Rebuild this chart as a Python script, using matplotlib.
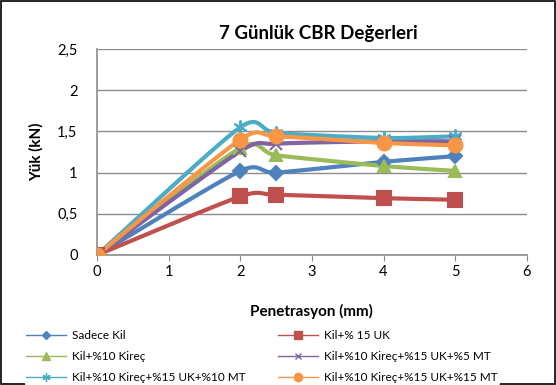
import numpy as np
import matplotlib
matplotlib.use('Agg')
import matplotlib.pyplot as plt
from matplotlib.ticker import FuncFormatter

plt.rcParams['font.family'] = ['Lato', 'DejaVu Sans']

penetrasyon = [0, 2, 2.5, 4, 5]
sadece_kil = [0, 1.02, 1.00, 1.13, 1.20]
kil_uk = [0, 0.71, 0.73, 0.69, 0.67]
kil_kirec = [0, 1.30, 1.21, 1.08, 1.02]
kil_5mt = [0, 1.26, 1.35, 1.38, 1.38]
kil_10mt = [0, 1.55, 1.48, 1.42, 1.44]
kil_15mt = [0, 1.40, 1.44, 1.36, 1.33]

names = ['Sadece Kil', 'Kil+% 15 UK', 'Kil+%10 Kireç', 'Kil+%10 Kireç+%15 UK+%5 MT',
         'Kil+%10 Kireç+%15 UK+%10 MT', 'Kil+%10 Kireç+%15 UK+%15 MT']
series = [sadece_kil, kil_uk, kil_kirec, kil_5mt, kil_10mt, kil_15mt]
colors = ['#4F81BD', '#C0504D', '#9BBB59', '#8064A2', '#4BACC6', '#F79646']
markers = ['D', 's', '^', 'x', (6, 2, 0), 'o']
msizes = [7, 10, 9, 8, 10, 10]


def smooth(x, y, n=30):
    # catmull-rom like the excel smoothed line
    x = np.asarray(x, float)
    y = np.asarray(y, float)
    px = np.concatenate([[2 * x[0] - x[1]], x, [2 * x[-1] - x[-2]]])
    py = np.concatenate([[2 * y[0] - y[1]], y, [2 * y[-1] - y[-2]]])
    xs, ys = [], []
    for i in range(1, len(px) - 2):
        t = np.linspace(0, 1, n)
        for p, out in ((px, xs), (py, ys)):
            p0, p1, p2, p3 = p[i - 1], p[i], p[i + 1], p[i + 2]
            m1 = (p2 - p0) / 2 * 0.7
            m2 = (p3 - p1) / 2 * 0.7
            h00 = 2 * t**3 - 3 * t**2 + 1
            h10 = t**3 - 2 * t**2 + t
            h01 = -2 * t**3 + 3 * t**2
            h11 = t**3 - t**2
            out.extend(h00 * p1 + h10 * m1 + h01 * p2 + h11 * m2)
    return np.array(xs), np.array(ys)


fig = plt.figure(figsize=(5.56, 3.85), dpi=100)
ax = fig.add_axes([0.1745, 0.3377, 0.773, 0.535])

handles = []
for name, vals, c, m, ms in zip(names, series, colors, markers, msizes):
    sx, sy = smooth(penetrasyon, vals)
    ax.plot(sx, sy, color=c, lw=3, zorder=3)
    ax.plot(penetrasyon, vals, ls='none', marker=m, color=c, ms=ms, mew=1.5, zorder=4)
    h, = ax.plot([], [], color=c, marker=m, ms=ms * 0.6, lw=1, label=name)
    handles.append(h)

ax.set_xlim(0, 6)
ax.set_ylim(0, 2.5)
ax.set_xticks(range(7))
ax.set_yticks([0, 0.5, 1, 1.5, 2, 2.5])
ax.yaxis.set_major_formatter(FuncFormatter(lambda v, p: ('%g' % v).replace('.', ',')))
ax.grid(axis='y', color='#8C8C8C', lw=1)
ax.set_axisbelow(True)
for s in ['top', 'right']:
    ax.spines[s].set_visible(False)
for s in ['left', 'bottom']:
    ax.spines[s].set_color('#8C8C8C')
    ax.spines[s].set_linewidth(1.2)
ax.tick_params(axis='both', labelsize=10.5, colors='#8C8C8C', labelcolor='black', length=4)
ax.tick_params(axis='y', length=0, pad=14)

ax.set_ylabel('Yük (kN)', fontsize=11, fontweight='bold', labelpad=10)
ax.set_title('7 Günlük CBR Değerleri', fontsize=13.5, fontweight='bold', x=0.515, pad=7)
fig.text(0.56, 0.19, 'Penetrasyon (mm)', fontsize=11, fontweight='bold', ha='center', va='center')

# row-wise order for a 2 column legend
order = [0, 2, 4, 1, 3, 5]
leg = fig.legend([handles[i] for i in order], [names[i] for i in order],
                 loc='upper left', bbox_to_anchor=(0.045, 0.145), ncol=2,
                 frameon=True, fontsize=8.5, handlelength=3.4, handletextpad=0.5,
                 columnspacing=2.7, labelspacing=0.85, borderaxespad=0, borderpad=0.1)
leg.get_frame().set_edgecolor('white')
leg.get_frame().set_facecolor('white')
leg.get_frame().set_alpha(1)
leg.set_zorder(10)

fig.patches.append(plt.Rectangle((0.002, 0.002), 0.996, 0.996, transform=fig.transFigure,
                                 fill=False, edgecolor='black', lw=1.2))

fig.savefig('out.png', dpi=100)
